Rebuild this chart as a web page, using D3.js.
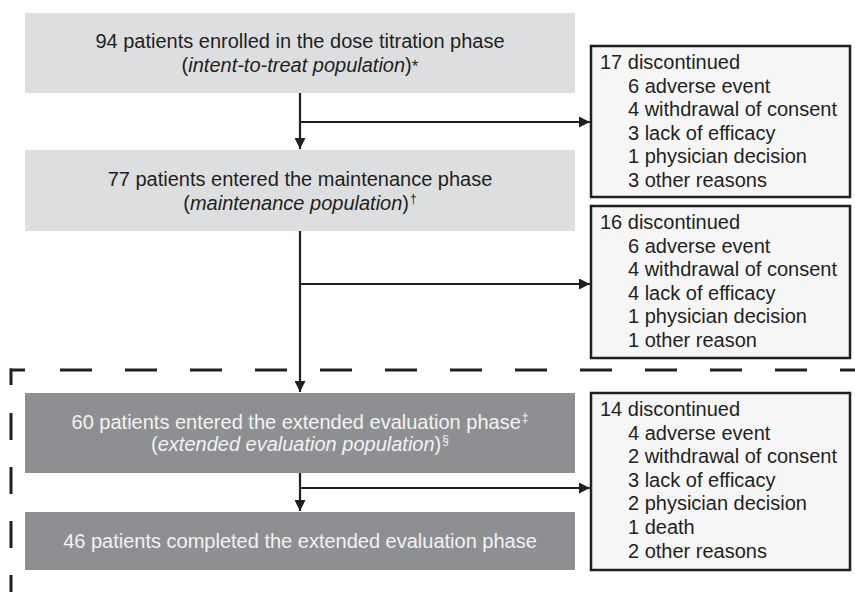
<!DOCTYPE html>
<html>
<head>
<meta charset="utf-8">
<script src="https://cdn.jsdelivr.net/npm/d3@7"></script>
<style>
  body { margin: 0; background: #fff; }
  svg text { font-family: "Liberation Sans", Arial, sans-serif; }
</style>
</head>
<body>
<div id="flow"></div>
<script>
// phase boxes: each line is a list of [text, style] pieces (i = italic, s = superscript, a = asterisk)
var phaseLines = [
  [[["94 patients enrolled in the dose titration phase", ""]],
   [["(", ""], ["intent-to-treat population", "i"], [")", ""], ["*", "a"]]],
  [[["77 patients entered the maintenance phase", ""]],
   [["(", ""], ["maintenance population", "i"], [")", ""], ["\u2020", "s"]]],
  [[["60 patients entered the extended evaluation phase", ""], ["\u2021", "s"]],
   [["(", ""], ["extended evaluation population", "i"], [")", ""], ["\u00a7", "s"]]],
  [[["46 patients completed the extended evaluation phase", ""]]]
];
var phaseDark = [false, false, true, true];

var discTotals = [17, 16, 14];
var discCounts = [
  [6, 4, 3, 1, 3],
  [6, 4, 4, 1, 1],
  [4, 2, 3, 2, 1, 2]
];
var discReasons = [
  ["adverse event", "withdrawal of consent", "lack of efficacy", "physician decision", "other reasons"],
  ["adverse event", "withdrawal of consent", "lack of efficacy", "physician decision", "other reason"],
  ["adverse event", "withdrawal of consent", "lack of efficacy", "physician decision", "death", "other reasons"]
];

var width = 855, height = 592;
var ink = "#231f20";

var svg = d3.select("#flow").append("svg")
    .attr("width", width)
    .attr("height", height);

// layout (pixels)
var mainX = d3.scaleLinear().domain([0, 1]).range([25, 575]);
var sideX = d3.scaleLinear().domain([0, 1]).range([591, 850]);
var phaseBoxes = [[13, 93], [150, 231], [393, 473], [512, 570]];
var discBoxes = [[46, 197], [206, 358], [393, 570]];
var branchY = [122, 284, 488];
var spineX = mainX(0.5);

svg.append("defs").append("marker")
    .attr("id", "head")
    .attr("viewBox", "0 0 10 10")
    .attr("refX", 10).attr("refY", 5)
    .attr("markerWidth", 11).attr("markerHeight", 11)
    .attr("markerUnits", "userSpaceOnUse")
    .attr("orient", "auto")
  .append("path")
    .attr("d", "M0,0 L10,5 L0,10 Z")
    .attr("fill", ink);

// dashed frame around extended evaluation
svg.append("line")
    .attr("x1", 10).attr("x2", width)
    .attr("y1", 370).attr("y2", 370)
    .attr("stroke", ink).attr("stroke-width", 3)
    .attr("stroke-dasharray", "15 35 32 33 32 33 32 33 32 33 32 33 32 33 32 33 32 33 32 33 32 33 32 33 32 33 32 33");
svg.append("line")
    .attr("x1", 11).attr("x2", 11)
    .attr("y1", 368.5).attr("y2", height)
    .attr("stroke", ink).attr("stroke-width", 3)
    .attr("stroke-dasharray", "16.5 28 27 27 27 27 27 27 27 27");

// phase boxes
var phase = svg.selectAll("g.phase")
    .data(phaseLines)
    .enter().append("g")
    .attr("class", "phase");

phase.append("rect")
    .attr("x", mainX(0))
    .attr("width", mainX(1) - mainX(0))
    .attr("y", function(d, i){ return phaseBoxes[i][0]; })
    .attr("height", function(d, i){ return phaseBoxes[i][1] - phaseBoxes[i][0]; })
    .attr("fill", function(d, i){ return phaseDark[i] ? "#8e8f92" : "#dddee0"; });

phase.each(function(lines, i){
  var g = d3.select(this);
  var box = phaseBoxes[i];
  var mid = (box[0] + box[1]) / 2;
  var lh = lines.length > 1 ? (phaseDark[i] ? 22 : 24) : 0;
  var first = mid - lh * (lines.length - 1) / 2 + 7;
  lines.forEach(function(parts, j){
    var t = g.append("text")
        .attr("x", spineX)
        .attr("y", first + j * lh)
        .attr("text-anchor", "middle")
        .style("font-size", "20px")
        .attr("fill", phaseDark[i] ? "#f2f2f2" : ink);
    parts.forEach(function(p){
      var ts = t.append("tspan").text(p[0]);
      if (p[1] == "i") ts.style("font-style", "italic");
      if (p[1] == "s") ts.style("font-size", "12px").attr("dy", "-7").attr("dx", "1");
      if (p[1] == "a") ts.style("font-size", "17px");
    });
  });
});

// spine arrows between phase boxes
var spine = [[phaseBoxes[0][1], phaseBoxes[1][0]],
             [phaseBoxes[1][1], phaseBoxes[2][0]],
             [phaseBoxes[2][1], phaseBoxes[3][0]]];
svg.selectAll("line.spine")
    .data(spine)
    .enter().append("line")
    .attr("class", "spine")
    .attr("x1", spineX).attr("x2", spineX)
    .attr("y1", function(d){ return d[0]; })
    .attr("y2", function(d){ return d[1] - 1; })
    .attr("stroke", ink).attr("stroke-width", 2.2)
    .attr("marker-end", "url(#head)");

// branch arrows to discontinued boxes
svg.selectAll("line.branch")
    .data(branchY)
    .enter().append("line")
    .attr("class", "branch")
    .attr("x1", spineX).attr("x2", sideX(0) - 1)
    .attr("y1", function(d){ return d; })
    .attr("y2", function(d){ return d; })
    .attr("stroke", ink).attr("stroke-width", 2.2)
    .attr("marker-end", "url(#head)");

// discontinued boxes
var disc = svg.selectAll("g.disc")
    .data(discTotals)
    .enter().append("g")
    .attr("class", "disc");

disc.append("rect")
    .attr("x", sideX(0))
    .attr("width", sideX(1) - sideX(0))
    .attr("y", function(d, i){ return discBoxes[i][0]; })
    .attr("height", function(d, i){ return discBoxes[i][1] - discBoxes[i][0]; })
    .attr("fill", "#f6f6f6")
    .attr("stroke", ink)
    .attr("stroke-width", 2.5);

disc.each(function(total, i){
  var g = d3.select(this);
  var top = discBoxes[i][0];
  var rows = [total + " discontinued"].concat(discReasons[i].map(function(r, k){
    return discCounts[i][k] + " " + r;
  }));
  g.selectAll("text")
    .data(rows)
    .enter().append("text")
    .attr("x", function(d, k){ return k == 0 ? sideX(0) + 9 : sideX(0) + 37; })
    .attr("y", function(d, k){ return top + 23 + k * 23.6; })
    .style("font-size", "20px")
    .attr("fill", ink)
    .text(function(d){ return d; });
});
</script>
</body>
</html>
